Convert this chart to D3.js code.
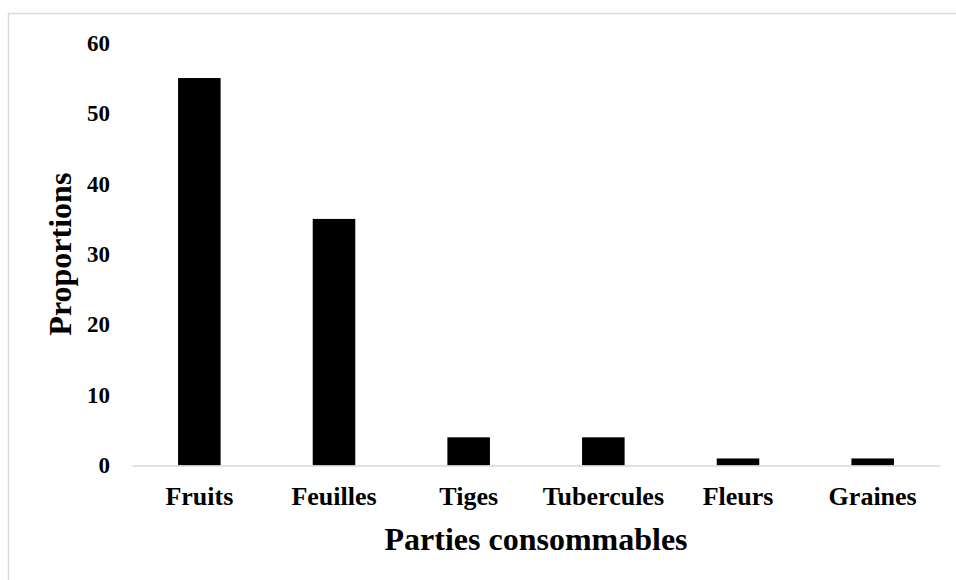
<!DOCTYPE html>
<html>
<head>
<meta charset="utf-8">
<script src="https://cdn.jsdelivr.net/npm/d3@7"></script>
<style>
  html, body { margin: 0; padding: 0; background: #fff; }
  svg { display: block; }
  text { font-family: "Liberation Serif", "Times New Roman", serif; font-weight: bold; fill: #000; }
</style>
</head>
<body>
<svg id="chart" width="956" height="580"></svg>
<script>
const categories = ["Fruits", "Feuilles", "Tiges", "Tubercules", "Fleurs", "Graines"];
const values = [55, 35, 4, 4, 1, 1];
const yTicks = [0, 10, 20, 30, 40, 50, 60];
const xTitle = "Parties consommables";
const yTitle = "Proportions";

const svg = d3.select("#chart");

// chart border
svg.append("rect")
  .attr("x", 8.5).attr("y", 13.5)
  .attr("width", 1000).attr("height", 1000)
  .attr("fill", "#fff")
  .attr("stroke", "#d9d9d9")
  .attr("stroke-width", 1.5);

const plot = { left: 132, right: 940, top: 42.8, bottom: 465.5 };

const x = d3.scaleBand()
  .domain(categories)
  .range([plot.left, plot.right])
  .paddingInner(0.684)
  .paddingOuter(0.342);

const y = d3.scaleLinear()
  .domain([0, 60])
  .range([plot.bottom, plot.top]);

// bars
svg.append("g")
  .selectAll("rect")
  .data(categories)
  .join("rect")
  .attr("x", (d) => x(d))
  .attr("y", (d, i) => y(values[i]))
  .attr("width", x.bandwidth())
  .attr("height", (d, i) => y(0) - y(values[i]))
  .attr("fill", "#000");

// y axis (labels only)
const yAxis = svg.append("g")
  .attr("transform", `translate(${plot.left},0)`)
  .call(d3.axisLeft(y).tickValues(yTicks).tickSize(0).tickPadding(22));
yAxis.select(".domain").remove();
yAxis.selectAll("text")
  .style("font-family", '"Liberation Serif", "Times New Roman", serif')
  .style("font-weight", "bold")
  .style("font-size", "23px")
  .attr("fill", "#000");

// x axis
const xAxis = svg.append("g")
  .attr("transform", `translate(0,${plot.bottom})`)
  .call(d3.axisBottom(x).tickSize(0).tickPadding(21));
xAxis.select(".domain")
  .attr("stroke", "#d9d9d9")
  .attr("stroke-width", 1.5);
xAxis.selectAll("text")
  .style("font-family", '"Liberation Serif", "Times New Roman", serif')
  .style("font-weight", "bold")
  .style("font-size", "26px")
  .attr("fill", "#000");

// titles
svg.append("text")
  .attr("x", (plot.left + plot.right) / 2)
  .attr("y", 550)
  .attr("text-anchor", "middle")
  .style("font-size", "32px")
  .text(xTitle);

svg.append("text")
  .attr("transform", `translate(71,${(plot.top + plot.bottom) / 2}) rotate(-90)`)
  .attr("text-anchor", "middle")
  .style("font-size", "32px")
  .text(yTitle);
</script>
</body>
</html>
